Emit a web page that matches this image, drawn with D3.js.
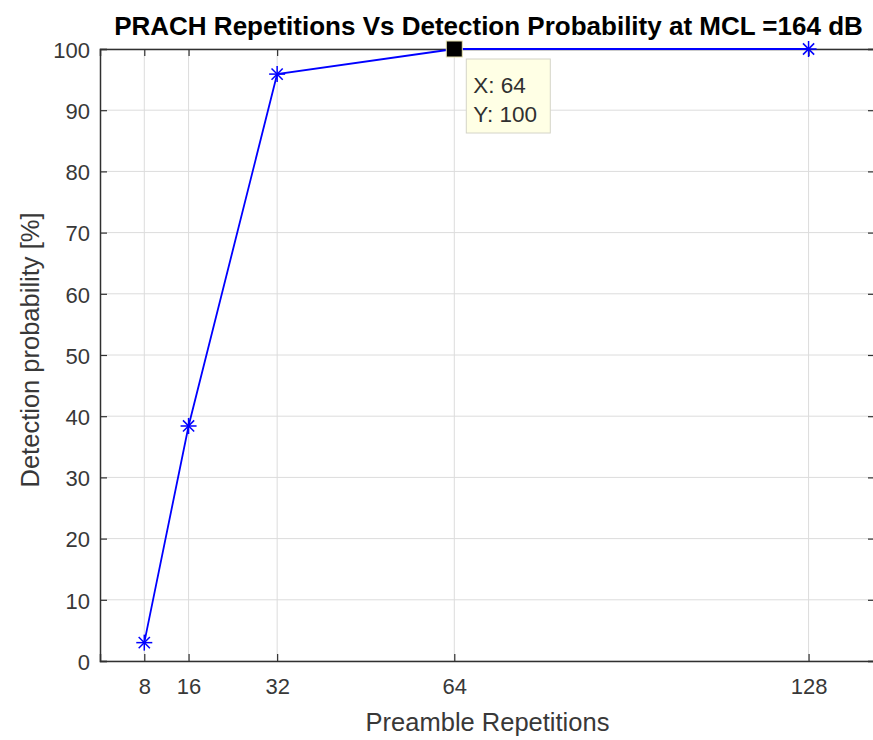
<!DOCTYPE html>
<html>
<head>
<meta charset="utf-8">
<script src="https://cdn.jsdelivr.net/npm/d3@7"></script>
<style>
  html, body { margin: 0; padding: 0; background: #fff; }
  svg { display: block; font-family: "Liberation Sans", Arial, Helvetica, sans-serif; }
</style>
</head>
<body>
<svg id="chart" width="873" height="740"></svg>
<script>
// Preamble repetitions and measured detection probability (%)
const repetitions = [8, 16, 32, 64, 128];
const detectionProb = [3, 38.4, 95.9, 100, 100];
const xTicks = [8, 16, 32, 64, 128];
const yTicks = [0, 10, 20, 30, 40, 50, 60, 70, 80, 90, 100];
const tipPoint = { x: 64, y: 100 };

(function () {
const svg = d3.select("#chart");
const pL = 100, pR = 875, pT = 49, pB = 661;

const x = d3.scaleLinear().domain([0, 140]).range([pL, pR]);
const y = d3.scaleLinear().domain([0, 100]).range([pB, pT]);

const axisColor = "#303030";
const gridColor = "#dcdcdc";

// Grid lines
const grid = svg.append("g");
grid.selectAll("line.gx").data(xTicks).enter().append("line")
  .attr("x1", d => x(d)).attr("x2", d => x(d))
  .attr("y1", pT).attr("y2", pB)
  .attr("stroke", gridColor).attr("stroke-width", 1);
grid.selectAll("line.gy").data(yTicks).enter().append("line")
  .attr("x1", pL).attr("x2", pR)
  .attr("y1", d => y(d)).attr("y2", d => y(d))
  .attr("stroke", gridColor).attr("stroke-width", 1);

// Axes (ticks drawn inward)
const xAxis = d3.axisBottom(x).tickValues(xTicks).tickSize(-7).tickPadding(17).tickFormat(d3.format("d"));
const yAxis = d3.axisLeft(y).tickValues(yTicks).tickSize(-7).tickPadding(10).tickFormat(d3.format("d"));
const xTop = d3.axisTop(x).tickValues(xTicks).tickSize(-7).tickFormat("");
const yRight = d3.axisRight(y).tickValues(yTicks).tickSize(-7).tickFormat("");

function styleAxis(g) {
  g.select(".domain").attr("stroke", axisColor).attr("stroke-width", 1.5);
  g.selectAll(".tick line").attr("stroke", axisColor).attr("stroke-width", 1.2);
  g.selectAll(".tick text").attr("fill", "#383838").style("font-size", "22px")
    .style("font-family", "'Liberation Sans', Arial, sans-serif");
}

svg.append("g").attr("transform", `translate(0,${pB})`).call(xAxis).call(styleAxis);
svg.append("g").attr("transform", `translate(${pL},0)`).call(yAxis).call(styleAxis)
  .selectAll(".tick text").attr("dy", "0.38em");
svg.append("g").attr("transform", `translate(0,${pT})`).call(xTop).call(styleAxis);
svg.append("g").attr("transform", `translate(${pR},0)`).call(yRight).call(styleAxis);

// Data line
const pts = repetitions.map((r, i) => [r, detectionProb[i]]);
svg.append("path")
  .datum(pts)
  .attr("fill", "none")
  .attr("stroke", "#0000ff")
  .attr("stroke-width", 1.8)
  .attr("d", d3.line().x(d => x(d[0])).y(d => y(d[1])));

// Asterisk markers
const r = 8;
const star = svg.append("g").selectAll("g").data(pts).enter().append("g")
  .attr("transform", d => `translate(${x(d[0])},${y(d[1])})`);
[[-r, 0, r, 0], [0, -r, 0, r], [-r * 0.7, -r * 0.7, r * 0.7, r * 0.7], [-r * 0.7, r * 0.7, r * 0.7, -r * 0.7]]
  .forEach(s => {
    star.append("line")
      .attr("x1", s[0]).attr("y1", s[1]).attr("x2", s[2]).attr("y2", s[3])
      .attr("stroke", "#0000ff").attr("stroke-width", 1.5);
  });

// Data tip
const tx = x(tipPoint.x), ty = y(tipPoint.y);
svg.append("rect")
  .attr("x", tx - 8).attr("y", ty - 8).attr("width", 16).attr("height", 16)
  .attr("fill", "#000").attr("stroke", "#e8e3b0").attr("stroke-width", 1);
const tip = svg.append("g").attr("transform", `translate(${tx + 12},${ty + 10})`);
tip.append("rect")
  .attr("x", 0).attr("y", 0).attr("width", 84).attr("height", 74)
  .attr("fill", "#ffffe5").attr("stroke", "#d4d4c8").attr("stroke-width", 1);
tip.append("text").attr("x", 7).attr("y", 34).text(`X: ${tipPoint.x}`)
  .attr("fill", "#303030").style("font-size", "22.5px");
tip.append("text").attr("x", 7).attr("y", 63).text(`Y: ${tipPoint.y}`)
  .attr("fill", "#303030").style("font-size", "22.5px");

// Title and axis labels
svg.append("text")
  .attr("x", (pL + pR) / 2 + 1).attr("y", 35)
  .attr("text-anchor", "middle")
  .style("font-size", "26px").style("font-weight", "bold")
  .attr("fill", "#000")
  .text("PRACH Repetitions Vs Detection Probability at MCL =164 dB");

svg.append("text")
  .attr("x", (pL + pR) / 2).attr("y", 731)
  .attr("text-anchor", "middle")
  .style("font-size", "25.5px")
  .attr("fill", "#383838")
  .text("Preamble Repetitions");

svg.append("text")
  .attr("transform", `translate(39,350) rotate(-90)`)
  .attr("text-anchor", "middle")
  .style("font-size", "25.5px")
  .attr("fill", "#383838")
  .text("Detection probability [%]");
})();
</script>
</body>
</html>
